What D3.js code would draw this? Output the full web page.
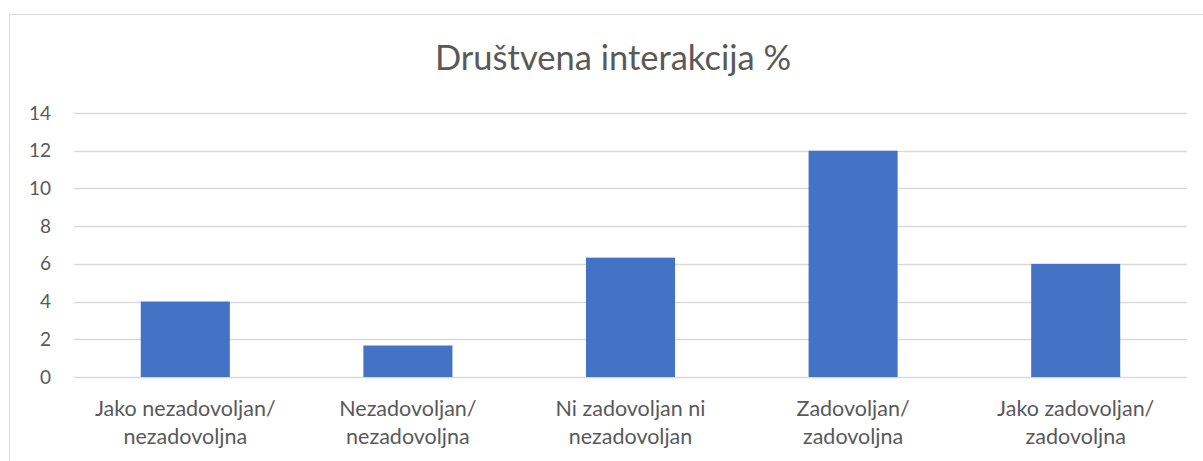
<!DOCTYPE html>
<html><head><meta charset="utf-8">
<script src="https://cdn.jsdelivr.net/npm/d3@7"></script>
<style>
html,body{margin:0;padding:0;background:#fff;}
svg{display:block;}
text{font-family:Lato,"Open Sans",sans-serif;fill:#595959;}
</style></head>
<body>
<svg id="c" width="1203" height="461"></svg>
<script>
const title = "Društvena interakcija %";
const categories = [
  ["Jako nezadovoljan/", "nezadovoljna"],
  ["Nezadovoljan/", "nezadovoljna"],
  ["Ni zadovoljan ni", "nezadovoljan"],
  ["Zadovoljan/", "zadovoljna"],
  ["Jako zadovoljan/", "zadovoljna"]
];
const values = [4, 1.67, 6.33, 12, 6];
const yTicks = [0, 2, 4, 6, 8, 10, 12, 14];

(function () {
const svg = d3.select("#c");
// chart area border
svg.append("rect").attr("x", 9.5).attr("y", 14.5).attr("width", 1220).attr("height", 470)
  .attr("fill", "#fff").attr("stroke", "#d9d9d9").attr("stroke-width", 1);

const pLeft = 74, pRight = 1187, pTop = 113, pBottom = 377;
const keys = categories.map((d, i) => i);
const x = d3.scaleBand().domain(keys).range([pLeft, pRight]).paddingInner(0.6).paddingOuter(0.3);
const y = d3.scaleLinear().domain([0, 14]).range([pBottom, pTop]);

// gridlines
svg.append("g").selectAll("line").data(yTicks).join("line")
  .attr("x1", pLeft).attr("x2", pRight)
  .attr("y1", d => Math.round(y(d)) + 0.5).attr("y2", d => Math.round(y(d)) + 0.5)
  .attr("stroke", "#d9d9d9").attr("stroke-width", 1.5);

// y axis labels
const yAxis = d3.axisLeft(y).tickValues(yTicks).tickSize(0).tickPadding(0);
const yg = svg.append("g").attr("transform", `translate(51,0)`).call(yAxis);
yg.select(".domain").remove();
yg.selectAll("text").style("font-size", "19px").attr("fill", "#595959")
  .style("font-family", "Lato, 'Open Sans', sans-serif");

// bars
svg.append("g").selectAll("rect").data(values).join("rect")
  .attr("x", (d, i) => x(i)).attr("width", x.bandwidth())
  .attr("y", d => y(d)).attr("height", d => y(0) - y(d))
  .attr("fill", "#4472c4");

// x labels
const xl = svg.append("g");
categories.forEach((lines, i) => {
  const cx = x(i) + x.bandwidth() / 2;
  const t = xl.append("text").attr("text-anchor", "middle").style("font-size", "21.5px");
  lines.forEach((ln, j) => {
    t.append("tspan").attr("x", cx).attr("y", 416 + j * 28).text(ln);
  });
});

// title
svg.append("text").attr("x", 613).attr("y", 70).attr("text-anchor", "middle")
  .style("font-size", "34.5px").text(title);
})();
</script>
</body></html>
